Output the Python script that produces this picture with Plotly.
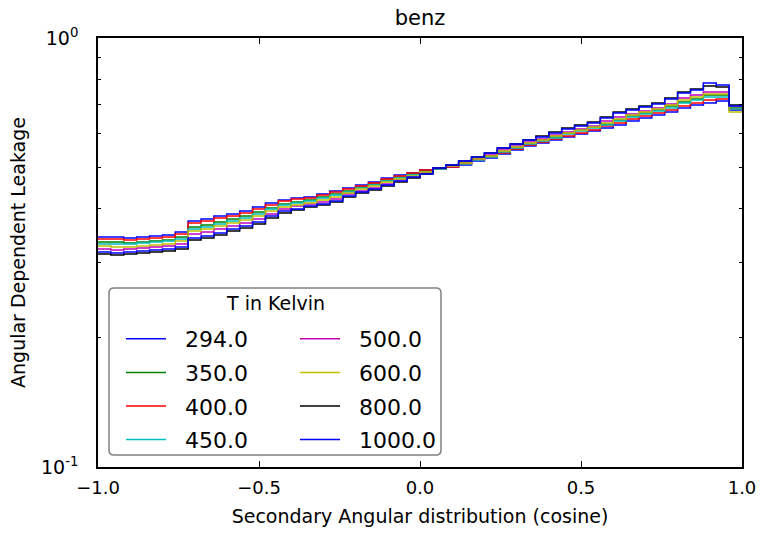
import numpy as np
import plotly.graph_objects as go

# Temperatures (K) and the matplotlib "classic" colour cycle used for them
temperatures = [294.0, 350.0, 400.0, 450.0, 500.0, 600.0, 800.0, 1000.0]
colors = ["#0000ff", "#008000", "#ff0000", "#00bfbf", "#bf00bf", "#bfbf00", "#000000", "#0000ff"]

# 50 equal cosine bins on [-1, 1]
bin_edges = np.linspace(-1.0, 1.0, 51)

leak_294 = [0.3436, 0.3436, 0.3418, 0.3436, 0.3455, 0.3473, 0.3529, 0.3745, 0.3786, 0.3847,
            0.3888, 0.3951, 0.4037, 0.4124, 0.4191, 0.4236, 0.4261, 0.4330, 0.4400, 0.4471,
            0.4544, 0.4617, 0.4717, 0.4794, 0.4846, 0.4924, 0.4950, 0.5005, 0.5059, 0.5168,
            0.5252, 0.5365, 0.5482, 0.5601, 0.5692, 0.5785, 0.5878, 0.5974, 0.6071, 0.6170,
            0.6269, 0.6406, 0.6510, 0.6615, 0.6724, 0.6870, 0.6981, 0.7056, 0.7133, 0.6796]
leak_350 = [0.3345, 0.3345, 0.3327, 0.3345, 0.3363, 0.3381, 0.3436, 0.3627, 0.3666, 0.3725,
            0.3786, 0.3847, 0.3930, 0.4015, 0.4102, 0.4147, 0.4191, 0.4261, 0.4330, 0.4400,
            0.4495, 0.4568, 0.4667, 0.4743, 0.4820, 0.4898, 0.4950, 0.5032, 0.5113, 0.5224,
            0.5308, 0.5424, 0.5541, 0.5661, 0.5785, 0.5878, 0.6006, 0.6104, 0.6203, 0.6303,
            0.6440, 0.6580, 0.6687, 0.6796, 0.6944, 0.7094, 0.7210, 0.7366, 0.7366, 0.6870]
leak_400 = [0.3400, 0.3400, 0.3381, 0.3400, 0.3418, 0.3436, 0.3492, 0.3705, 0.3745, 0.3806,
            0.3847, 0.3909, 0.3994, 0.4080, 0.4169, 0.4214, 0.4236, 0.4307, 0.4376, 0.4447,
            0.4519, 0.4593, 0.4692, 0.4768, 0.4846, 0.4924, 0.4950, 0.5005, 0.5086, 0.5196,
            0.5280, 0.5395, 0.5511, 0.5631, 0.5723, 0.5816, 0.5910, 0.6006, 0.6104, 0.6236,
            0.6337, 0.6475, 0.6580, 0.6687, 0.6796, 0.6944, 0.7056, 0.7171, 0.7210, 0.6833]
leak_450 = [0.3310, 0.3310, 0.3310, 0.3327, 0.3345, 0.3363, 0.3400, 0.3587, 0.3627, 0.3685,
            0.3745, 0.3806, 0.3888, 0.3994, 0.4080, 0.4124, 0.4169, 0.4236, 0.4307, 0.4376,
            0.4471, 0.4544, 0.4642, 0.4717, 0.4794, 0.4872, 0.4950, 0.5032, 0.5086, 0.5196,
            0.5280, 0.5424, 0.5541, 0.5661, 0.5754, 0.5847, 0.5974, 0.6071, 0.6170, 0.6269,
            0.6406, 0.6545, 0.6650, 0.6760, 0.6870, 0.7056, 0.7171, 0.7287, 0.7287, 0.6833]
leak_500 = [0.3222, 0.3205, 0.3222, 0.3240, 0.3257, 0.3274, 0.3310, 0.3492, 0.3529, 0.3587,
            0.3646, 0.3705, 0.3786, 0.3888, 0.3994, 0.4059, 0.4102, 0.4147, 0.4214, 0.4330,
            0.4400, 0.4471, 0.4568, 0.4667, 0.4743, 0.4846, 0.4977, 0.5032, 0.5113, 0.5224,
            0.5337, 0.5482, 0.5601, 0.5723, 0.5816, 0.5942, 0.6039, 0.6137, 0.6236, 0.6406,
            0.6545, 0.6650, 0.6760, 0.6870, 0.7019, 0.7248, 0.7366, 0.7485, 0.7485, 0.6944]
leak_600 = [0.3274, 0.3257, 0.3257, 0.3274, 0.3292, 0.3310, 0.3363, 0.3548, 0.3587, 0.3646,
            0.3705, 0.3765, 0.3847, 0.3951, 0.4037, 0.4080, 0.4124, 0.4191, 0.4261, 0.4353,
            0.4447, 0.4519, 0.4617, 0.4692, 0.4768, 0.4872, 0.4977, 0.5032, 0.5113, 0.5224,
            0.5308, 0.5453, 0.5571, 0.5692, 0.5785, 0.5910, 0.6006, 0.6104, 0.6203, 0.6337,
            0.6475, 0.6615, 0.6724, 0.6833, 0.6981, 0.7171, 0.7287, 0.7405, 0.7405, 0.6724]
leak_800 = [0.3137, 0.3120, 0.3137, 0.3154, 0.3171, 0.3188, 0.3222, 0.3381, 0.3418, 0.3473,
            0.3548, 0.3606, 0.3685, 0.3806, 0.3909, 0.3973, 0.4037, 0.4080, 0.4147, 0.4261,
            0.4353, 0.4424, 0.4519, 0.4617, 0.4717, 0.4820, 0.4977, 0.5059, 0.5168, 0.5280,
            0.5395, 0.5541, 0.5661, 0.5785, 0.5910, 0.6039, 0.6170, 0.6269, 0.6372, 0.6545,
            0.6724, 0.6833, 0.6944, 0.7056, 0.7248, 0.7485, 0.7606, 0.7729, 0.7688, 0.6981]
leak_1000 = [0.3171, 0.3154, 0.3171, 0.3188, 0.3205, 0.3222, 0.3257, 0.3418, 0.3455, 0.3511,
             0.3587, 0.3646, 0.3725, 0.3847, 0.3951, 0.3994, 0.4059, 0.4102, 0.4169, 0.4284,
             0.4376, 0.4447, 0.4544, 0.4642, 0.4743, 0.4820, 0.4977, 0.5059, 0.5168, 0.5280,
             0.5395, 0.5541, 0.5661, 0.5785, 0.5878, 0.6006, 0.6137, 0.6236, 0.6337, 0.6510,
             0.6687, 0.6796, 0.6907, 0.7019, 0.7210, 0.7445, 0.7566, 0.7855, 0.7771, 0.6944]

series = [leak_294, leak_350, leak_400, leak_450, leak_500, leak_600, leak_800, leak_1000]

x_tickvals = [-1.0, -0.5, 0.0, 0.5, 1.0]
x_ticktext = ["\u22121.0", "\u22120.5", "0.0", "0.5", "1.0"]
y_tickvals = [0.1, 1.0]
y_ticktext = ["10<sup>-1</sup>", "10<sup>0</sup>"]
y_minor = [0.2, 0.3, 0.4, 0.5, 0.6, 0.7, 0.8, 0.9]

W, H = 763, 534
ML, MR, MT, MB = 98, 21, 38, 67
PW, PH = W - ML - MR, H - MT - MB
FONT = "DejaVu Sans"
NBSP = "\u00a0"

fig = go.Figure()
for i, (temp, vals, col) in enumerate(zip(temperatures, series, colors)):
    fig.add_trace(go.Scatter(
        x=bin_edges, y=list(vals) + [vals[-1]],
        mode="lines", line=dict(color=col, width=1.5, shape="hv"),
        name=NBSP * 2 + f"{temp:.1f}",
        legend="legend" if i < 4 else "legend2",
        legendgroup=str(i),
    ))


def px_to_paper(px, py):
    return (px - ML) / PW, (H - MB - py) / PH


def rounded_box(x0, y0, x1, y1, r=5):
    # rounded rectangle path in paper coordinates from pixel corners
    ax, ay = px_to_paper(x0, y0)
    bx, by = px_to_paper(x1, y1)
    rx, ry = r / PW, r / PH
    return (f"M{ax + rx},{ay} L{bx - rx},{ay} Q{bx},{ay} {bx},{ay - ry} "
            f"L{bx},{by + ry} Q{bx},{by} {bx - rx},{by} L{ax + rx},{by} "
            f"Q{ax},{by} {ax},{by + ry} L{ax},{ay - ry} Q{ax},{ay} {ax + rx},{ay} Z")


legend_common = dict(
    xanchor="left", yanchor="top", bgcolor="rgba(0,0,0,0)", borderwidth=0,
    font=dict(family=FONT, size=22, color="black"), itemwidth=40,
    tracegroupgap=2, traceorder="grouped",
)
lx1, ly = px_to_paper(121, 318)
lx2, _ = px_to_paper(295, 318)

tx, ty = px_to_paper(275, 303)

fig.update_layout(
    width=W, height=H,
    margin=dict(l=ML, r=MR, t=MT, b=MB, autoexpand=False),
    paper_bgcolor="white", plot_bgcolor="white",
    font=dict(family=FONT, color="black"),
    title=dict(text="benz", x=(ML + PW / 2) / W, xanchor="center",
               y=1 - 18 / H, yanchor="middle", font=dict(size=21)),
    legend=dict(x=lx1, y=ly, **legend_common),
    legend2=dict(x=lx2, y=ly, **legend_common),
    shapes=[dict(type="path", xref="paper", yref="paper",
                 path=rounded_box(109, 288, 441, 455),
                 line=dict(color="#808080", width=1.5), fillcolor="white", layer="above")],
    annotations=[dict(text="T in Kelvin", x=tx, y=ty, xref="paper", yref="paper",
                      showarrow=False, xanchor="center", yanchor="middle",
                      font=dict(size=19))],
)

fig.update_xaxes(
    range=[-1, 1], tickvals=x_tickvals, ticktext=x_ticktext, automargin=False,
    ticks="inside", ticklen=6, tickwidth=1, tickcolor="black",
    showline=True, linecolor="black", linewidth=1.5, mirror="ticks",
    showgrid=False, zeroline=False, tickfont=dict(size=18),
    ticklabelstandoff=4,
    title=dict(text="Secondary Angular distribution (cosine)", font=dict(size=19), standoff=12),
)
fig.update_yaxes(
    type="log", range=[-1, 0], tickvals=y_tickvals, ticktext=y_ticktext, automargin=False,
    ticks="inside", ticklen=6, tickwidth=1, tickcolor="black",
    minor=dict(tickvals=y_minor, ticks="inside", ticklen=3, tickcolor="black", showgrid=False),
    showline=True, linecolor="black", linewidth=1.5, mirror="ticks",
    showgrid=False, zeroline=False, tickfont=dict(size=19),
    ticklabelstandoff=14,
    title=dict(text="Angular Dependent Leakage", font=dict(size=19), standoff=10),
)

fig.write_html("out.html")
